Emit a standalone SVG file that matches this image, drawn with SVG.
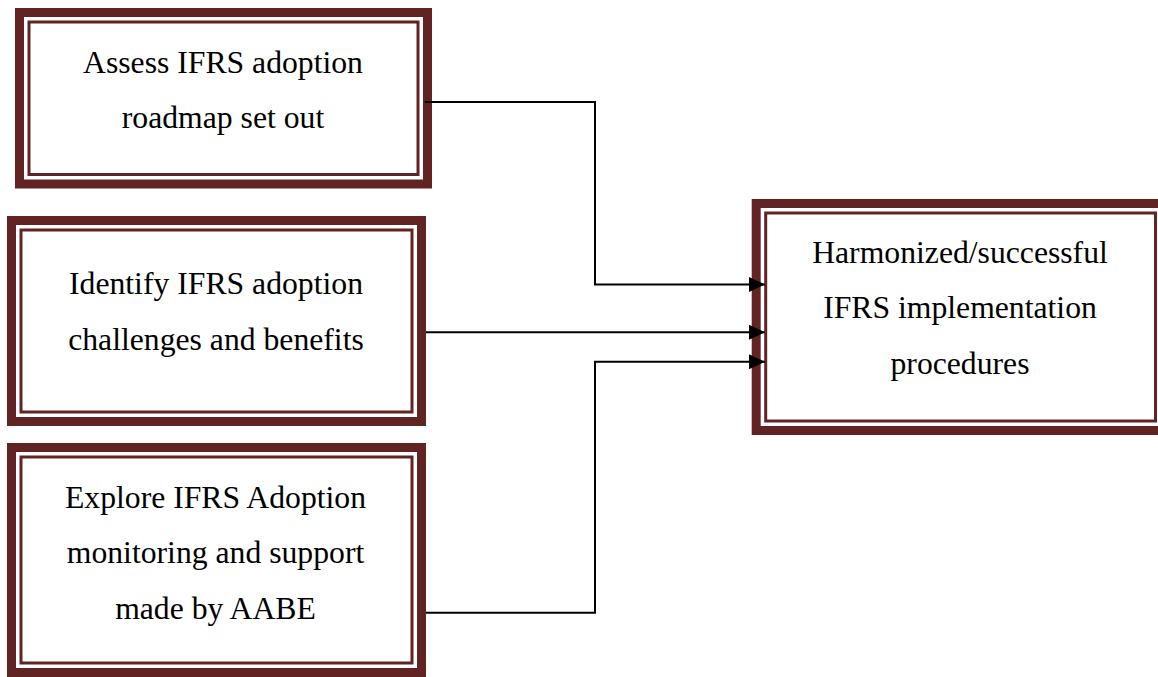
<svg xmlns="http://www.w3.org/2000/svg" width="1158" height="677" viewBox="0 0 1158 677">
<style>
.thick{fill:#ffffff;stroke:#622423;stroke-width:9}
.thin{fill:none;stroke:#622423;stroke-width:3}
.lbl{font-family:"Liberation Serif","Times New Roman",serif;font-size:31.7px;fill:#000;text-anchor:middle}
.conn{fill:none;stroke:#000;stroke-width:2}
</style>
<defs>
<marker id="arr" markerUnits="userSpaceOnUse" markerWidth="16" markerHeight="15" refX="16" refY="7.5" orient="auto">
<path d="M0,0 L16,7.5 L0,15 z" fill="#000"/>
</marker>
</defs>
<rect x="0" y="0" width="1158" height="677" fill="#ffffff"/>
<g id="node-assess">
<rect class="thick" x="19.5" y="12.5" width="408" height="171.5"/>
<rect class="thin" x="29" y="22" width="389" height="152.5"/>
<text class="lbl"><tspan x="223" y="73">Assess IFRS adoption</tspan><tspan x="223" y="128.2">roadmap set out</tspan></text>
</g>
<g id="node-identify">
<rect class="thick" x="11.5" y="220.5" width="410" height="201"/>
<rect class="thin" x="21" y="230" width="391" height="182"/>
<text class="lbl"><tspan x="216" y="294.3">Identify IFRS adoption</tspan><tspan x="216" y="349.5">challenges and benefits</tspan></text>
</g>
<g id="node-explore">
<rect class="thick" x="11.5" y="447.5" width="410" height="225"/>
<rect class="thin" x="21" y="457" width="391" height="206"/>
<text class="lbl"><tspan x="215.5" y="507.7">Explore IFRS Adoption</tspan><tspan x="215.5" y="563.2">monitoring and support</tspan><tspan x="215.5" y="618.5">made by AABE</tspan></text>
</g>
<g id="node-harmonized">
<rect class="thick" x="756.2" y="203.5" width="408.8" height="227"/>
<rect class="thin" x="765.7" y="213" width="389.8" height="208"/>
<text class="lbl"><tspan x="960" y="262.7">Harmonized/successful</tspan><tspan x="960" y="318.3">IFRS implementation</tspan><tspan x="960" y="374">procedures</tspan></text>
</g>
<g id="connectors">
<path class="conn" d="M425,102 H595 V284.5 H765" marker-end="url(#arr)"/>
<path class="conn" d="M426,332.3 H765" marker-end="url(#arr)"/>
<path class="conn" d="M426,612.7 H595 V361.7 H765" marker-end="url(#arr)"/>
</g>
</svg>
